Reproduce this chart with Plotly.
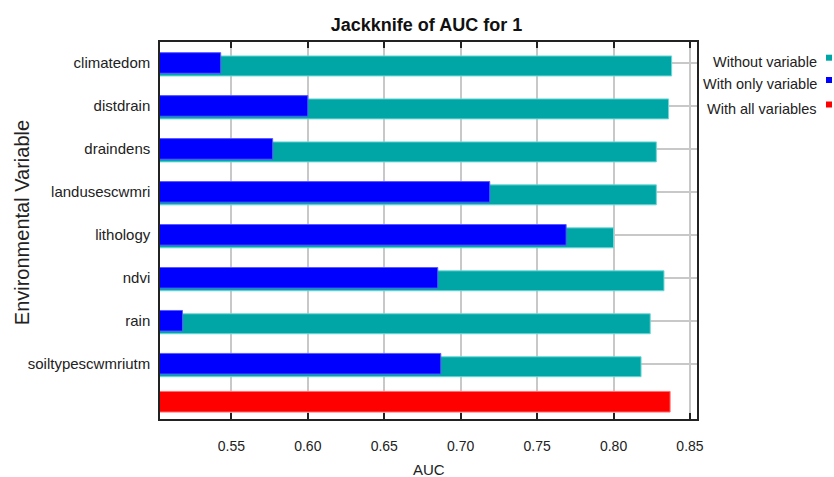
import plotly.graph_objects as go

# ---- data ----
categories = ["climatedom", "distdrain", "draindens", "landusescwmri",
              "lithology", "ndvi", "rain", "soiltypescwmriutm"]
without_variable = [0.838, 0.836, 0.828, 0.828, 0.800, 0.833, 0.824, 0.818]
with_only_variable = [0.543, 0.600, 0.577, 0.719, 0.769, 0.685, 0.518, 0.687]
with_all_variables = [0.837]
all_label = [" "]
x_ticks = [0.55, 0.60, 0.65, 0.70, 0.75, 0.80, 0.85]
legend_names = ["Without variable", "With only variable", "With all variables"]

TEAL = "rgb(0,166,166)"
BLUE = "rgb(0,0,255)"
RED = "rgb(255,0,0)"

W, H = 834, 477
ML, MR, MT, MB = 160, 137, 42, 58
PW, PH = W - ML - MR, H - MT - MB

FONT = "Liberation Sans, Arial, sans-serif"
TXT = "#222"

fig = go.Figure()
fig.add_trace(go.Bar(
    y=categories, x=without_variable, orientation="h", name=legend_names[0],
    marker=dict(color=TEAL, line=dict(color="rgb(110,215,215)", width=1)),
    offset=-0.163, width=0.465, showlegend=False))
fig.add_trace(go.Bar(
    y=categories, x=with_only_variable, orientation="h", name=legend_names[1],
    marker=dict(color=BLUE, line=dict(color="rgb(90,90,255)", width=1)),
    offset=-0.24, width=0.48, showlegend=False))
fig.add_trace(go.Bar(
    y=all_label, x=with_all_variables, orientation="h", name=legend_names[2],
    marker=dict(color=RED, line=dict(color="rgb(255,110,110)", width=1)),
    offset=-0.356, width=0.48, showlegend=False))

cat_all = categories + all_label
yrange = [8.286, -0.488]

def px_to_paper_x(px):
    return (px - ML) / PW

def px_to_paper_y(py):
    return 1 - (py - MT) / PH

fig.update_layout(
    width=W, height=H,
    margin=dict(l=ML, r=MR, t=MT, b=MB, pad=0, autoexpand=False),
    paper_bgcolor="white", plot_bgcolor="white",
    barmode="overlay",
    font=dict(family=FONT, size=15, color=TXT),
    title=dict(text="<b>Jackknife of AUC for 1</b>", xref="paper",
               x=px_to_paper_x(426.5), xanchor="center",
               yref="container", y=1 - 25 / H, yanchor="middle",
               font=dict(family=FONT, size=18, color="#111")),
    xaxis=dict(range=[0.5033, 0.8546], tickvals=x_ticks,
               ticktext=[f"{v:.2f}" for v in x_ticks],
               ticks="inside", ticklen=6, tickcolor="#222", tickwidth=1.5,
               showline=True, linecolor="#222", linewidth=1.5, mirror="ticks",
               showgrid=True, gridcolor="rgb(200,200,200)", gridwidth=1.5,
               zeroline=False, ticklabelstandoff=13, automargin=False,
               tickfont=dict(size=14)),
    yaxis=dict(type="category", categoryorder="array", categoryarray=cat_all,
               range=yrange, tickvals=categories, ticks="",
               showline=True, linecolor="#222", linewidth=1.5, mirror=True,
               showgrid=True, gridcolor="rgb(200,200,200)", gridwidth=1.5,
               ticklabelstandoff=5, automargin=False, tickfont=dict(size=15)),
    yaxis2=dict(type="category", categoryorder="array", categoryarray=cat_all,
                overlaying="y", side="right", range=yrange, tickvals=categories,
                ticks="inside", ticklen=6, tickcolor="#222", tickwidth=1.5,
                showticklabels=False, showgrid=False, showline=False, zeroline=False,
                automargin=False),
)

# axis titles
fig.add_annotation(text="AUC", xref="paper", yref="paper",
                   x=px_to_paper_x(429), y=px_to_paper_y(469),
                   xanchor="center", yanchor="middle", showarrow=False,
                   font=dict(family=FONT, size=15, color=TXT))
fig.add_annotation(text="Environmental Variable", xref="paper", yref="paper",
                   x=px_to_paper_x(21.7), y=px_to_paper_y(222.5), textangle=-90,
                   xanchor="center", yanchor="middle", showarrow=False,
                   font=dict(family=FONT, size=20, color=TXT))

# legend drawn at the right, text right-aligned with the swatch on its right
legend_rows_px = [61.7, 84.0, 108.5]
legend_colors = [TEAL, BLUE, RED]
for name, col, ry in zip(legend_names, legend_colors, legend_rows_px):
    fig.add_annotation(text=name, xref="paper", yref="paper",
                       x=px_to_paper_x(819), y=px_to_paper_y(ry),
                       xanchor="right", yanchor="middle", showarrow=False,
                       font=dict(family=FONT, size=14.5, color=TXT))
    fig.add_shape(type="rect", xref="paper", yref="paper",
                  x0=px_to_paper_x(826), x1=px_to_paper_x(832),
                  y0=px_to_paper_y(ry - 7), y1=px_to_paper_y(ry - 1),
                  fillcolor=col, line=dict(width=0))

fig.write_html("out.html",
               config={"displayModeBar": False},
               post_script="document.body.style.margin='0';"
                           "document.body.style.overflow='hidden';")
